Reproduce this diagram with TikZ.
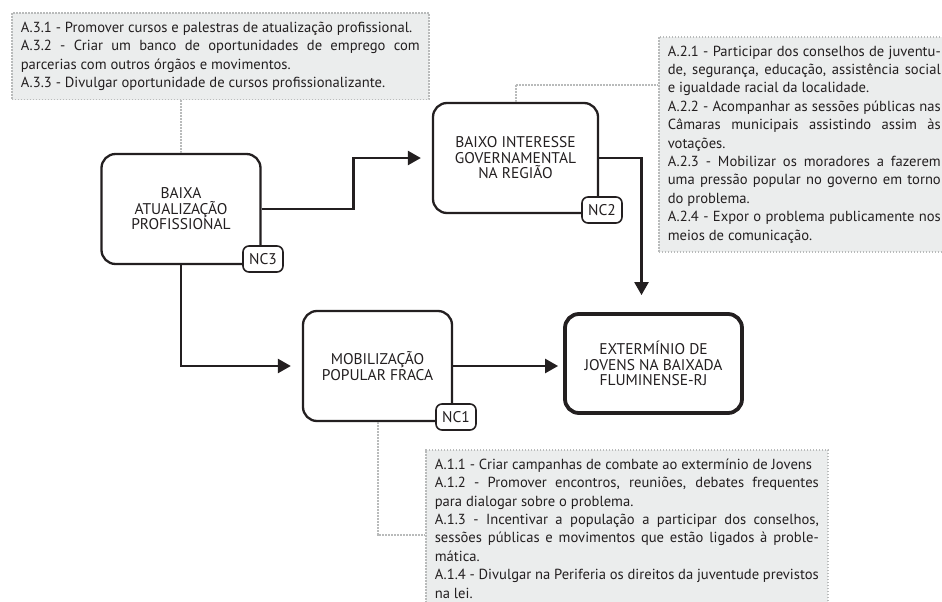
\documentclass[tikz,border=0pt]{standalone}
\usepackage{fontspec}
\setmainfont{PT Sans}
\usetikzlibrary{arrows.meta}
\definecolor{fundo}{RGB}{235,237,237}
\definecolor{pontos}{RGB}{185,187,187}
\definecolor{tinta}{RGB}{35,31,32}
\hyphenpenalty=10000
\exhyphenpenalty=10000
\tikzset{
  causa/.style={draw=tinta,rounded corners=14pt,line width=2.3pt,align=center,inner sep=0pt,text=tinta,font=\fontsize{15.5}{15.5}\selectfont},
  problema/.style={causa,line width=3.8pt},
  etiqueta/.style={draw=tinta,fill=white,rounded corners=6pt,line width=1.6pt,minimum width=40pt,minimum height=26pt,inner sep=0pt,text=tinta,font=\fontsize{15.5}{15.5}\selectfont},
  acoes/.style={draw=pontos,fill=fundo,line width=1.6pt,dash pattern=on 1.6pt off 1.4pt,anchor=north west,align=justify,inner xsep=9pt,inner ysep=9pt,text=tinta,font=\fontsize{14.6}{18.4}\selectfont},
  ligacao/.style={draw=pontos,line width=2pt,dash pattern=on 1.6pt off 1.4pt},
  seta/.style={draw=tinta,line width=2.4pt,-{Triangle[length=13pt,width=14pt]}}
}

\begin{document}
\begin{tikzpicture}[x=1pt,y=-1pt]
\useasboundingbox (0,0) rectangle (942,602);

\node[acoes,text width=399pt] (a3) at (11,12) {A.3.1 - Promover cursos e palestras de atualização profissional.\\
A.3.2 - Criar um banco de oportunidades de emprego com\linebreak parcerias com outros órgãos e movimentos.\\
A.3.3 - Divulgar oportunidade de cursos profissionalizante.};
\node[acoes,text width=273pt] (a2) at (658,36) {A.2.1 - Participar dos conselhos de juventu-\linebreak de, segurança, educação, assistência social\linebreak e igualdade racial da localidade.\\
A.2.2 - Acompanhar as sessões públicas nas\linebreak Câmaras municipais assistindo assim às\linebreak votações.\\
A.2.3 - Mobilizar os moradores a fazerem\linebreak uma pressão popular no governo em torno\linebreak do problema.\\
A.2.4 - Expor o problema publicamente nos\linebreak meios de comunicação.};
\node[acoes,text width=384pt] (a1) at (425,449) {A.1.1 - Criar campanhas de combate ao extermínio de Jovens\\
A.1.2 - Promover encontros, reuniões, debates frequentes\linebreak para dialogar sobre o problema.\\
A.1.3 - Incentivar a população a participar dos conselhos,\linebreak sessões públicas e movimentos que estão ligados à proble-\linebreak mática.\\
A.1.4 - Divulgar na Periferia os direitos da juventude previstos\linebreak na lei.};

\node[causa,minimum width=159pt,minimum height=110pt] (baixa) at (181,209) {BAIXA\\ATUALIZAÇÃO\\PROFISSIONAL};
\node[causa,minimum width=165pt,minimum height=110pt] (baixo) at (515.5,158) {BAIXO INTERESSE\\GOVERNAMENTAL\\NA REGIÃO};
\node[causa,minimum width=149pt,minimum height=110pt] (mob) at (377.5,366) {MOBILIZAÇÃO\\POPULAR FRACA};
\node[problema,minimum width=177pt,minimum height=99pt] (ext) at (653.5,363.5) {EXTERMÍNIO DE\\JOVENS NA BAIXADA\\FLUMINENSE-RJ};

\node[etiqueta] (nc3) at (263,259) {NC3};
\node[etiqueta] (nc2) at (602,210) {NC2};
\node[etiqueta] (nc1) at (456,417) {NC1};

\draw[ligacao] (a3.south -| baixa.north) -- (baixa.north);
\draw[ligacao] (baixo.north) |- ([yshift=60pt]a2.west);
\draw[ligacao] (mob.south) |- ([yshift=-6pt]a1.west);

\draw[seta,shorten >=11pt] (baixa.east) -- ++(92,0) |- (baixo.west);
\draw[seta,shorten >=11pt] (baixa.south) |- (mob.west);
\draw[seta,shorten >=17pt] (baixo.east) -| ([xshift=-12pt]ext.north);
\draw[seta,shorten >=5pt] (mob.east) -- (mob.east -| ext.west);

\end{tikzpicture}
\end{document}
